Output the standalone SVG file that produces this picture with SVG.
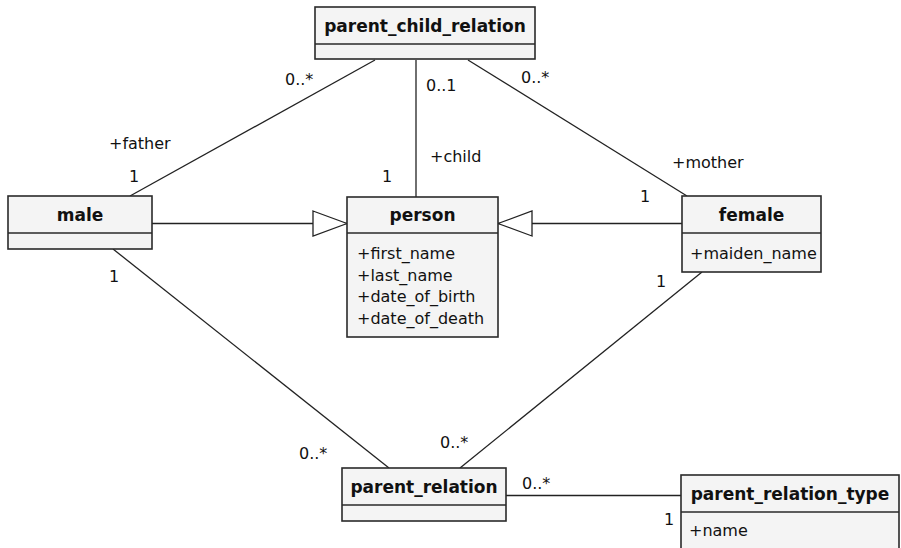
<svg xmlns="http://www.w3.org/2000/svg" width="901" height="548" viewBox="0 0 901 548">
<style>
.box{fill:#f4f4f4;stroke:#2a2a2a;stroke-width:1.6}
.div{stroke:#2a2a2a;stroke-width:1.6}
.ttl{font-family:"DejaVu Sans","Verdana",sans-serif;font-weight:bold;font-size:17px;fill:#111;text-anchor:middle}
.att{font-family:"DejaVu Sans","Verdana",sans-serif;font-size:16px;fill:#111}
.lbl{font-family:"DejaVu Sans","Verdana",sans-serif;font-size:16px;fill:#111}
.ln{stroke:#222;stroke-width:1.3;fill:none}
</style>
<defs>
<marker id="gen" markerUnits="userSpaceOnUse" viewBox="0 0 36 28" refX="35" refY="14" markerWidth="36" markerHeight="28" orient="auto">
<path d="M1,1.5 L35,14 L1,26.5 Z" fill="#fff" stroke="#222" stroke-width="1.3"/>
</marker>
</defs>
<rect width="901" height="548" fill="#fff"/>
<g id="connectors">
<line class="ln" x1="375" y1="60" x2="130" y2="196"/>
<line class="ln" x1="416" y1="60" x2="416" y2="197"/>
<line class="ln" x1="468" y1="60" x2="687" y2="196"/>
<line class="ln" x1="152" y1="223.5" x2="347" y2="223.5" marker-end="url(#gen)"/>
<line class="ln" x1="682" y1="223.5" x2="498" y2="223.5" marker-end="url(#gen)"/>
<line class="ln" x1="113" y1="249" x2="389" y2="468"/>
<line class="ln" x1="702" y1="272" x2="460" y2="468"/>
<line class="ln" x1="506" y1="495.5" x2="681" y2="495.5"/>
<text class="lbl" x="285" y="85">0..*</text>
<text class="lbl" x="109" y="149">+father</text>
<text class="lbl" x="129" y="182">1</text>
<text class="lbl" x="426" y="91">0..1</text>
<text class="lbl" x="430" y="162">+child</text>
<text class="lbl" x="382" y="182">1</text>
<text class="lbl" x="521" y="83">0..*</text>
<text class="lbl" x="672" y="168">+mother</text>
<text class="lbl" x="640" y="202">1</text>
<text class="lbl" x="109" y="282">1</text>
<text class="lbl" x="656" y="287">1</text>
<text class="lbl" x="299" y="459">0..*</text>
<text class="lbl" x="440" y="448">0..*</text>
<text class="lbl" x="522" y="489">0..*</text>
<text class="lbl" x="664" y="525">1</text>
</g>
<g id="parent_child_relation">
<rect class="box" x="315" y="7" width="220" height="52"/>
<line class="div" x1="315" y1="44" x2="535" y2="44"/>
<text class="ttl" x="425" y="32">parent_child_relation</text>
</g>
<g id="male">
<rect class="box" x="8" y="196" width="144" height="53"/>
<line class="div" x1="8" y1="233" x2="152" y2="233"/>
<text class="ttl" x="80" y="221">male</text>
</g>
<g id="person">
<rect class="box" x="347" y="197" width="151" height="140"/>
<line class="div" x1="347" y1="233" x2="498" y2="233"/>
<text class="ttl" x="422.5" y="221">person</text>
<text class="att" x="357" y="259">+first_name</text>
<text class="att" x="357" y="281">+last_name</text>
<text class="att" x="357" y="302">+date_of_birth</text>
<text class="att" x="357" y="324">+date_of_death</text>
</g>
<g id="female">
<rect class="box" x="682" y="196" width="139" height="76"/>
<line class="div" x1="682" y1="233" x2="821" y2="233"/>
<text class="ttl" x="751.5" y="221">female</text>
<text class="att" x="690" y="259">+maiden_name</text>
</g>
<g id="parent_relation">
<rect class="box" x="342" y="468" width="164" height="53"/>
<line class="div" x1="342" y1="505" x2="506" y2="505"/>
<text class="ttl" x="424" y="493">parent_relation</text>
</g>
<g id="parent_relation_type">
<rect class="box" x="681" y="475" width="218" height="80"/>
<line class="div" x1="681" y1="512" x2="899" y2="512"/>
<text class="ttl" x="790" y="500">parent_relation_type</text>
<text class="att" x="689" y="536">+name</text>
</g>
</svg>
